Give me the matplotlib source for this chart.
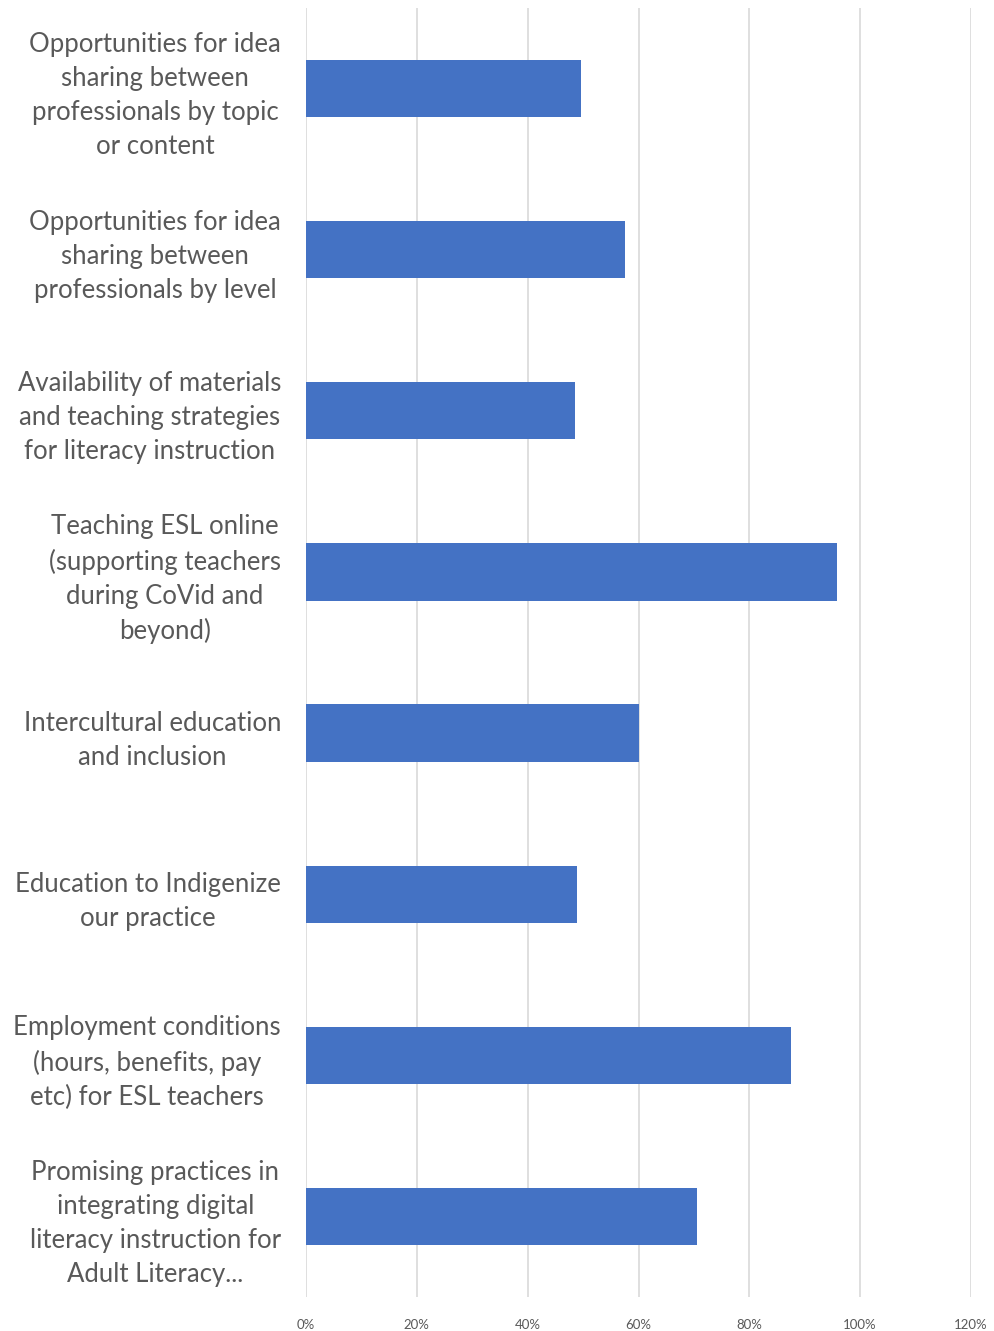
import numpy as np
import matplotlib
matplotlib.use("Agg")
import matplotlib.pyplot as plt
from matplotlib.ticker import PercentFormatter

categories = [
    "Opportunities for idea\nsharing between\nprofessionals by topic\nor content",
    "Opportunities for idea\nsharing between\nprofessionals by level",
    "Availability of materials\nand teaching strategies\nfor literacy instruction",
    "Teaching ESL online\n(supporting teachers\nduring CoVid and\nbeyond)",
    "Intercultural education\nand inclusion",
    "Education to Indigenize\nour practice",
    "Employment conditions\n(hours, benefits, pay\netc) for ESL teachers",
    "Promising practices in\nintegrating digital\nliteracy instruction for\nAdult Literacy...",
]
values = [0.496, 0.576, 0.486, 0.958, 0.601, 0.489, 0.875, 0.706]
xticks = [0, 0.2, 0.4, 0.6, 0.8, 1.0, 1.2]

plt.rcParams['font.family'] = ['Lato', 'DejaVu Sans']

fig = plt.figure(figsize=(9.94, 13.31), dpi=100)
ax = fig.add_axes([306/994, 1 - 1297/1331, (971 - 306)/994, (1297 - 8)/1331])

y = np.arange(len(categories))
ax.barh(y, values, height=0.355, color="#4472C4", zorder=3)
ax.set_ylim(len(categories) - 0.5, -0.5)
ax.set_xlim(0, 1.2)
ax.set_xticks(xticks)
ax.xaxis.set_major_formatter(PercentFormatter(1.0, decimals=0))
ax.set_yticks(y)
labels = ax.set_yticklabels(categories, fontsize=18.5, color="#595959",
                            linespacing=1.45, multialignment="center")
for lab in labels:
    lab.set_y(lab.get_position()[1])
ax.tick_params(axis="y", length=0, pad=18)
ax.tick_params(axis="x", length=0, pad=16, labelsize=9.5, labelcolor="#595959")
ax.grid(axis="x", color="#D9D9D9", linewidth=1.2, zorder=0)
for s in ax.spines.values():
    s.set_visible(False)

fig.savefig("out.png", dpi=100)
